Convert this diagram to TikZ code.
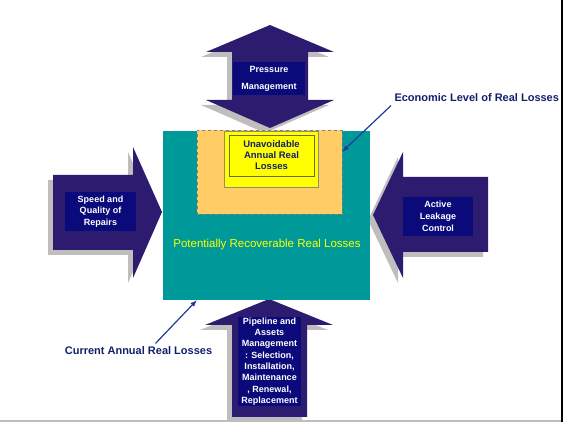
\documentclass[tikz,border=0pt]{standalone}
\usepackage{fontspec}
\setmainfont{Liberation Sans}
\usetikzlibrary{arrows.meta,positioning,calc}
\definecolor{DarkIndigo}{HTML}{2C1B6E}
\definecolor{NavyBox}{HTML}{0A0A7A}
\definecolor{ShadowGray}{HTML}{BEBEBE}
\definecolor{TealLoss}{HTML}{009999}
\definecolor{OrangeEcon}{HTML}{FFCC66}
\definecolor{YellowUnavoid}{HTML}{FFFF00}
\definecolor{OliveLine}{HTML}{6B6B2A}
\definecolor{NavyText}{HTML}{12206A}
\definecolor{PointerBlue}{HTML}{1F3C96}

\begin{document}
\begin{tikzpicture}[
    x=1pt,y=-1pt,
    zone/.style={inner sep=0pt,outer sep=0pt},
    navybox/.style={fill=NavyBox,text=white,inner sep=0pt,outer sep=0pt,align=center,font=\fontsize{9}{11.3}\selectfont\bfseries},
    callout/.style={text=NavyText,font=\fontsize{11}{13}\selectfont\bfseries},
    pointer/.style={-{Latex[length=2.4mm,width=1.8mm]},line width=1.2pt,draw=PointerBlue}]
    \useasboundingbox (0,0) rectangle (563,422);
    % the four big arrows, shadow first
    \foreach \dx/\dy/\col in {-5/5/ShadowGray,0/0/DarkIndigo}{
      \fill[\col,shift={(\dx,\dy)}] (270,25) -- (334,52) -- (308,52) -- (308,100) -- (334,100)
        -- (270,128) -- (206,100) -- (232,100) -- (232,52) -- (206,52) -- cycle;
      \fill[\col,shift={(\dx,\dy)}] (53,175) -- (133,175) -- (133,147) -- (162,212)
        -- (133,278) -- (133,250) -- (53,250) -- cycle;
      \fill[\col,shift={(\dx,\dy)}] (488,177) -- (403,177) -- (403,152) -- (373,215)
        -- (403,278) -- (403,252) -- (488,252) -- cycle;
      \fill[\col,shift={(\dx,\dy)}] (269,299) -- (333,325) -- (307,325) -- (307,417)
        -- (232,417) -- (232,325) -- (205,325) -- cycle;
    }
    % loss zones
    \node[zone,fill=TealLoss,minimum width=207pt,minimum height=169pt] (recov) at (266.5,215.5) {};
    \node[zone,fill=OrangeEcon,draw=gray,dashed,line width=0.8pt,minimum width=145pt,minimum height=84pt] (econ) at (269.5,172) {};
    \node[zone,fill=YellowUnavoid,draw=gray!80!olive,minimum width=94pt,minimum height=56pt] (yellow) at (271,159) {};
    \node[zone,draw=OliveLine,align=center,text=NavyText,font=\fontsize{9.5}{11}\selectfont\bfseries,
      minimum width=85pt,minimum height=41pt] (unavoid) at (271.5,155.5) {Unavoidable\\Annual Real\\Losses};
    \node[text=YellowUnavoid,font=\fontsize{11.5}{13}\selectfont] (recovlbl) at (267,245) {Potentially Recoverable Real Losses};
    % text boxes on the arrows
    \node[navybox,minimum width=72pt,minimum height=33pt,font=\fontsize{9}{17}\selectfont\bfseries] (pressure) at (269,78.5) {Pressure\\Management};
    \node[navybox,minimum width=71pt,minimum height=39pt] (speed) at (100.5,211.5) {Speed and\\Quality of\\Repairs};
    \node[navybox,minimum width=70pt,minimum height=39pt,font=\fontsize{9}{12}\selectfont\bfseries] (active) at (438,216.5) {Active\\Leakage\\Control};
    \node[navybox,minimum width=63pt,minimum height=89pt] (pipeline) at (269.5,361.5) {Pipeline and\\Assets\\Management\\: Selection,\\Installation,\\Maintenance\\, Renewal,\\Replacement};
    % callouts
    \node[callout,anchor=west] (econlbl) at (391,98) {Economic Level of Real Losses};
    \node[callout] (currlbl) at (138.5,351) {Current Annual Real Losses};
    \coordinate (econhit) at ($(econ.east)+(0,-20)$);
    \coordinate (currhit) at ($(recov.south west)+(34,0)$);
    \draw[pointer] (econlbl.south west) -- (econhit);
    \draw[pointer] ($(currlbl.north)+(17,0)$) -- (currhit);
    % frame edges
    \fill[black] (561,0) rectangle (563,422);
    \fill[ShadowGray] (0,420) rectangle (561,422);
  \end{tikzpicture}
\end{document}
